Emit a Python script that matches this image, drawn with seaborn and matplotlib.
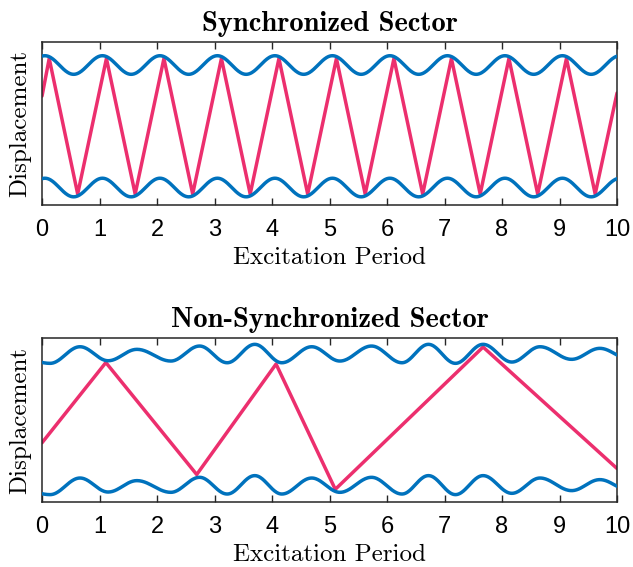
import numpy as np
import pandas as pd
import matplotlib
matplotlib.use("Agg")
import matplotlib.pyplot as plt
import seaborn as sns

# ---------------- data ----------------
x_ticks = [0, 1, 2, 3, 4, 5, 6, 7, 8, 9, 10]

# Synchronized sector: wall extrema (time, displacement of upper wall)
sync_wall_t = [-0.45, 0.05, 0.55, 1.05, 1.55, 2.05, 2.55, 3.05, 3.55, 4.05, 4.55,
               5.05, 5.55, 6.05, 6.55, 7.05, 7.55, 8.05, 8.55, 9.05, 9.55, 10.05, 10.55]
sync_wall_y = [130.7, 149.3, 130.7, 149.3, 130.7, 149.3, 130.7, 149.3, 130.7, 149.3, 130.7,
               149.3, 130.7, 149.3, 130.7, 149.3, 130.7, 149.3, 130.7, 149.3, 130.7, 149.3, 130.7]
sync_gap = 122.5
sync_ylim = [0, 163]
# Synchronized sector: particle path vertices
sync_path_t = [0, 0.125, 0.62, 1.12, 1.62, 2.12, 2.62, 3.12, 3.62, 4.12, 4.62, 5.12,
               5.62, 6.12, 6.62, 7.12, 7.62, 8.12, 8.62, 9.12, 9.62, 10]
sync_path_y = [109, 146.5, 11, 146.5, 11, 146.5, 11, 146.5, 11, 146.5, 11, 146.5,
               11, 146.5, 11, 146.5, 11, 146.5, 11, 146.5, 11, 112]

# Non-synchronized sector: wall extrema
nons_wall_t = [-0.38, 0.14, 0.66, 1.15, 1.65, 2.24, 2.74, 3.22, 3.70, 4.17, 4.69,
               5.18, 5.73, 6.26, 6.72, 7.19, 7.67, 8.17, 8.66, 9.21, 9.70, 10.2]
nons_wall_y = [144.0, 138.7, 155.3, 141.3, 152.7, 141.0, 156.0, 139.3, 157.7, 139.3, 155.3,
               141.0, 156.0, 139.3, 157.7, 138.7, 157.7, 140.0, 155.3, 142.7, 153.7, 143.5]
nons_gap = 131.3
nons_ylim = [0, 164]
nons_path_t = [0, 1.11, 2.69, 4.07, 5.10, 7.67, 10]
nons_path_y = [59.3, 139.5, 27.5, 138.0, 12.7, 155.0, 33.5]

titles = ["Synchronized Sector", "Non-Synchronized Sector"]
xlabel = "Excitation Period"
ylabel = "Displacement"

wall_color = "#0072BD"
path_color = "#EC2F6E"


def smooth_extrema(ts, ys, n=40):
    """Render a smooth curve through wall extrema (half-cosine between each pair)."""
    xs, vs = [], []
    for i in range(len(ts) - 1):
        s = np.linspace(0, 1, n, endpoint=False)
        xs.append(ts[i] + (ts[i + 1] - ts[i]) * s)
        vs.append(ys[i] + (ys[i + 1] - ys[i]) * (1 - np.cos(np.pi * s)) / 2)
    xs.append([ts[-1]])
    vs.append([ys[-1]])
    return np.concatenate(xs), np.concatenate(vs)


sns.set_theme(style="white")
plt.rcParams["font.family"] = ["Liberation Sans", "DejaVu Sans"]
plt.rcParams["axes.unicode_minus"] = False

fig = plt.figure(figsize=(6.33, 5.67), dpi=100)
ax1 = fig.add_axes([0.0664, 0.6384, 0.9084, 0.2875])
ax2 = fig.add_axes([0.0664, 0.1146, 0.9084, 0.2892])

panels = [
    (ax1, sync_wall_t, sync_wall_y, sync_gap, sync_path_t, sync_path_y, sync_ylim, titles[0]),
    (ax2, nons_wall_t, nons_wall_y, nons_gap, nons_path_t, nons_path_y, nons_ylim, titles[1]),
]

for ax, wt, wy, gap, pt, py, ylim, title in panels:
    xs, upper = smooth_extrema(wt, wy)
    lower = upper - gap
    walls = pd.DataFrame({
        "t": np.concatenate([xs, xs]),
        "y": np.concatenate([upper, lower]),
        "wall": ["upper"] * len(xs) + ["lower"] * len(xs),
    })
    path = pd.DataFrame({"t": pt, "y": py})
    sns.lineplot(data=path, x="t", y="y", ax=ax, color=path_color, lw=2.5,
                 sort=False, estimator=None, zorder=2)
    sns.lineplot(data=walls, x="t", y="y", units="wall", ax=ax, color=wall_color,
                 lw=2.5, sort=False, estimator=None, zorder=3)
    ax.set_xlim(0, 10)
    ax.set_ylim(*ylim)
    ax.set_xticks(x_ticks)
    ax.set_xticklabels([str(v) for v in x_ticks])
    ax.set_yticks([])
    ax.tick_params(axis="x", direction="in", top=True, bottom=True, length=5,
                   width=1.0, color="#262626", labelsize=17, pad=10, labelcolor="black")
    for sp in ax.spines.values():
        sp.set_visible(True)
        sp.set_color("#262626")
        sp.set_linewidth(1.1)
    ax.set_title(title, fontfamily="cmb10", fontsize=20.5, pad=8, color="black")
    ax.set_xlabel(xlabel, fontfamily="cmr10", fontsize=18, labelpad=4, color="black")
    ax.set_ylabel(ylabel, fontfamily="cmr10", fontsize=18, labelpad=8, color="black")

fig.savefig("out.png", dpi=100)
